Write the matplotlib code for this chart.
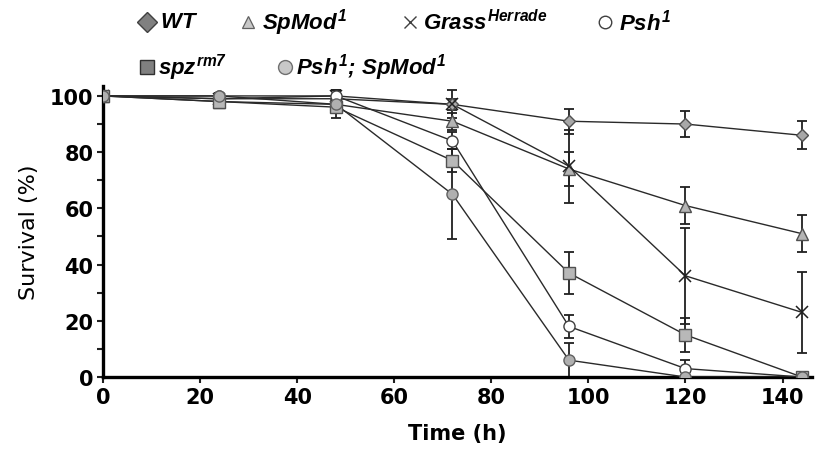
import matplotlib
matplotlib.use("Agg")
import matplotlib.pyplot as plt
from matplotlib.lines import Line2D
from matplotlib.ticker import MultipleLocator

plt.rcParams['mathtext.fontset'] = 'custom'
plt.rcParams['mathtext.it'] = 'Liberation Sans:italic:bold'
plt.rcParams['mathtext.rm'] = 'Liberation Sans:italic:bold'
plt.rcParams['mathtext.bf'] = 'Liberation Sans:italic:bold'

# time points (h)
hours = [0, 24, 48, 72, 96, 120, 144]

# survival (%) and error bars
wt = [100, 99, 99, 97, 91, 90, 86]
wt_err = [0, 1, 1, 2, 4.5, 4.5, 5]
spmod = [100, 98, 97, 91, 74, 61, 51]
spmod_err = [0, 2, 3, 3, 6, 6.5, 6.5]
grass = [100, 99, 100, 97, 75, 36, 23]
grass_err = [0, 1, 2, 5, 13, 17, 14.5]
psh = [100, 100, 100, 84, 18, 3, 0]
psh_err = [0, 1, 2, 3, 4, 3, 0]
spz = [100, 98, 96, 77, 37, 15, 0]
spz_err = [0, 2, 4, 4, 7.5, 6, 0]
psh_spmod = [100, 100, 97, 65, 6, 0, 0]
psh_spmod_err = [0, 1, 3, 16, 6, 0, 0]

labels = [r'$WT$', r'$SpMod^{1}$', r'$Grass^{Herrade}$', r'$Psh^{1}$',
          r'$spz^{rm7}$', r'$Psh^{1}$; $SpMod^{1}$']

# (marker, face, edge, size) for plot markers
styles = [
    ('D', '#a8a8a8', '#505050', 6.5),
    ('^', '#b4b4b4', '#505050', 8),
    ('x', 'none', '#202020', 9),
    ('o', 'white', '#404040', 8),
    ('s', '#b8b8b8', '#505050', 8),
    ('o', '#b0b0b0', '#606060', 8),
]
series = [(wt, wt_err), (spmod, spmod_err), (grass, grass_err),
          (psh, psh_err), (spz, spz_err), (psh_spmod, psh_spmod_err)]

fig = plt.figure(figsize=(8.24, 4.56), dpi=100)
ax = fig.add_axes([0.125, 0.171, 0.86, 0.638])

for (vals, err), (mk, fc, ec, ms) in zip(series, styles):
    ax.errorbar(hours, vals, yerr=err, fmt='none', ecolor='#202020',
                elinewidth=1.3, capsize=3.5, capthick=1.3, zorder=2)
    ax.plot(hours, vals, color='#2a2a2a', lw=1.0, zorder=3)
    ax.plot(hours, vals, ls='none', marker=mk, ms=ms, mfc=fc, mec=ec,
            mew=1.0 if mk != 'x' else 1.1, zorder=4)

ax.set_xlim(0, 146)
ax.set_ylim(0, 103.5)
ax.xaxis.set_major_locator(MultipleLocator(20))
ax.yaxis.set_major_locator(MultipleLocator(20))
ax.yaxis.set_minor_locator(MultipleLocator(10))
for s in ['top', 'right']:
    ax.spines[s].set_visible(False)
ax.spines['left'].set_linewidth(2.4)
ax.spines['bottom'].set_linewidth(2.4)
ax.tick_params(axis='both', which='both', direction='out', width=1.5,
               color='#202020')
ax.tick_params(axis='both', which='major', length=4, pad=3)
ax.tick_params(axis='y', which='minor', length=4)
for lab in ax.get_xticklabels() + ax.get_yticklabels():
    lab.set_fontfamily('DejaVu Sans')
    lab.set_fontweight('bold')
    lab.set_fontsize(15)
ax.set_xlabel('Time (h)', fontfamily='DejaVu Sans', fontweight='bold',
              fontsize=15, labelpad=12)
ax.set_ylabel('Survival (%)', fontfamily='DejaVu Sans', fontsize=16,
              labelpad=8)

# legend drawn by hand in two rows
W, H = 824.0, 456.0
leg_markers = [
    ('D', '#808080', '#404040', 10, 1.0),
    ('^', '#c8c8c8', '#606060', 9, 0.9),
    ('x', 'none', '#404040', 8, 1.0),
    ('o', 'white', '#404040', 9, 1.0),
    ('s', '#808080', '#303030', 10, 1.0),
    ('o', '#c8c8c8', '#707070', 10, 1.0),
]
leg_pos = [(147, 23, 160), (248, 23, 262), (410, 23, 423), (605, 23, 619),
           (147, 68, 158), (285, 68, 296)]
for (mk, fc, ec, ms, mw), (mx, my, tx), lab in zip(leg_markers, leg_pos, labels):
    fig.add_artist(Line2D([mx / W], [1 - my / H], transform=fig.transFigure,
                          ls='none', marker=mk, ms=ms, mfc=fc, mec=ec, mew=mw))
    fig.text(tx / W, 1 - my / H, lab, fontsize=16, va='center', ha='left',
             fontfamily='Liberation Sans', fontweight='bold', fontstyle='italic')

fig.savefig('out.png', dpi=100)
